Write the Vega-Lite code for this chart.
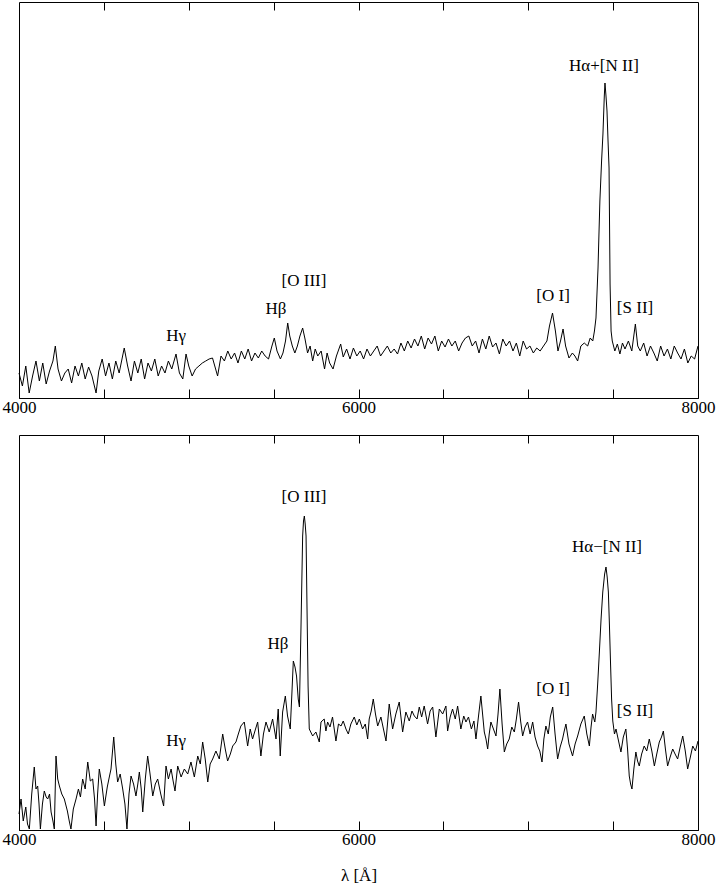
{
"$schema": "https://vega.github.io/schema/vega-lite/v6.json",
"padding": {"left": 1, "top": 1, "right": 0, "bottom": 0},
"background": "white",
"config": {
  "view": {"stroke": "black", "strokeWidth": 1},
  "axis": {"domainColor": "black", "tickColor": "black", "labelColor": "black", "titleColor": "black", "labelFont": "Liberation Serif", "titleFont": "Liberation Serif", "labelFontSize": 17, "titleFontSize": 17, "titleFontWeight": "normal", "grid": false, "zindex": 1},
  "text": {"font": "Liberation Serif", "fontSize": 17, "color": "black"}
},
"spacing": 18,
"datasets": {
"p1": [
{"w":4000,"f":25},{"w":4020,"f":12},{"w":4040,"f":32},{"w":4060,"f":5},{"w":4080,"f":22},{"w":4100,"f":37},{"w":4120,"f":17},{"w":4140,"f":35},{"w":4160,"f":14},{"w":4180,"f":27},{"w":4200,"f":37},{"w":4214,"f":52},{"w":4230,"f":29},{"w":4250,"f":17},{"w":4270,"f":25},{"w":4290,"f":29},{"w":4310,"f":15},{"w":4330,"f":32},{"w":4350,"f":22},{"w":4370,"f":35},{"w":4390,"f":19},{"w":4410,"f":31},{"w":4430,"f":22},{"w":4454,"f":5},{"w":4470,"f":27},{"w":4490,"f":39},{"w":4510,"f":22},{"w":4530,"f":35},{"w":4550,"f":19},{"w":4570,"f":37},{"w":4590,"f":25},{"w":4620,"f":50},{"w":4640,"f":32},{"w":4660,"f":17},{"w":4680,"f":37},{"w":4700,"f":25},{"w":4720,"f":39},{"w":4740,"f":19},{"w":4760,"f":35},{"w":4780,"f":27},{"w":4800,"f":39},{"w":4820,"f":22},{"w":4840,"f":32},{"w":4860,"f":25},{"w":4880,"f":37},{"w":4900,"f":29},{"w":4925,"f":44},{"w":4945,"f":25},{"w":4965,"f":19},{"w":4984,"f":44},{"w":5000,"f":32},{"w":5020,"f":22},{"w":5040,"f":29},{"w":5060,"f":32},{"w":5080,"f":35},{"w":5100,"f":37},{"w":5120,"f":39},{"w":5140,"f":40},{"w":5170,"f":22},{"w":5190,"f":42},{"w":5210,"f":37},{"w":5230,"f":47},{"w":5250,"f":39},{"w":5270,"f":45},{"w":5290,"f":35},{"w":5310,"f":47},{"w":5330,"f":39},{"w":5350,"f":49},{"w":5370,"f":37},{"w":5390,"f":45},{"w":5410,"f":40},{"w":5430,"f":47},{"w":5450,"f":42},{"w":5470,"f":39},{"w":5490,"f":52},{"w":5504,"f":60},{"w":5520,"f":47},{"w":5540,"f":39},{"w":5555,"f":45},{"w":5570,"f":57},{"w":5583,"f":75},{"w":5595,"f":62},{"w":5610,"f":52},{"w":5625,"f":45},{"w":5640,"f":52},{"w":5655,"f":62},{"w":5671,"f":70},{"w":5685,"f":59},{"w":5700,"f":45},{"w":5715,"f":52},{"w":5730,"f":37},{"w":5745,"f":49},{"w":5760,"f":42},{"w":5780,"f":47},{"w":5800,"f":29},{"w":5815,"f":45},{"w":5830,"f":35},{"w":5850,"f":29},{"w":5870,"f":42},{"w":5895,"f":54},{"w":5910,"f":41},{"w":5930,"f":49},{"w":5950,"f":39},{"w":5970,"f":50},{"w":5990,"f":42},{"w":6010,"f":47},{"w":6030,"f":39},{"w":6050,"f":49},{"w":6070,"f":42},{"w":6090,"f":47},{"w":6110,"f":52},{"w":6130,"f":42},{"w":6150,"f":47},{"w":6170,"f":52},{"w":6190,"f":45},{"w":6210,"f":49},{"w":6230,"f":44},{"w":6250,"f":55},{"w":6270,"f":47},{"w":6290,"f":57},{"w":6310,"f":50},{"w":6330,"f":59},{"w":6350,"f":52},{"w":6370,"f":62},{"w":6390,"f":49},{"w":6410,"f":60},{"w":6430,"f":54},{"w":6450,"f":62},{"w":6470,"f":47},{"w":6490,"f":57},{"w":6510,"f":51},{"w":6530,"f":59},{"w":6550,"f":52},{"w":6570,"f":57},{"w":6590,"f":47},{"w":6610,"f":55},{"w":6630,"f":60},{"w":6650,"f":62},{"w":6670,"f":52},{"w":6690,"f":57},{"w":6710,"f":45},{"w":6730,"f":59},{"w":6750,"f":49},{"w":6770,"f":62},{"w":6790,"f":51},{"w":6810,"f":55},{"w":6830,"f":44},{"w":6850,"f":59},{"w":6870,"f":52},{"w":6890,"f":57},{"w":6910,"f":47},{"w":6930,"f":55},{"w":6950,"f":42},{"w":6970,"f":57},{"w":6990,"f":49},{"w":7010,"f":52},{"w":7030,"f":45},{"w":7050,"f":50},{"w":7070,"f":47},{"w":7090,"f":52},{"w":7110,"f":57},{"w":7125,"f":72},{"w":7143,"f":85},{"w":7160,"f":67},{"w":7175,"f":47},{"w":7190,"f":57},{"w":7205,"f":69},{"w":7220,"f":52},{"w":7240,"f":40},{"w":7260,"f":45},{"w":7275,"f":42},{"w":7291,"f":37},{"w":7310,"f":52},{"w":7330,"f":55},{"w":7350,"f":52},{"w":7365,"f":60},{"w":7380,"f":57},{"w":7390,"f":67},{"w":7399,"f":80},{"w":7411,"f":130},{"w":7422,"f":197},{"w":7432,"f":237},{"w":7440,"f":264},{"w":7448,"f":302},{"w":7452,"f":315},{"w":7458,"f":302},{"w":7464,"f":287},{"w":7470,"f":257},{"w":7476,"f":230},{"w":7482,"f":114},{"w":7488,"f":67},{"w":7495,"f":57},{"w":7510,"f":47},{"w":7525,"f":54},{"w":7540,"f":44},{"w":7555,"f":55},{"w":7570,"f":49},{"w":7590,"f":57},{"w":7610,"f":47},{"w":7631,"f":74},{"w":7645,"f":52},{"w":7660,"f":47},{"w":7680,"f":55},{"w":7700,"f":42},{"w":7720,"f":52},{"w":7740,"f":45},{"w":7760,"f":37},{"w":7780,"f":52},{"w":7800,"f":42},{"w":7820,"f":49},{"w":7840,"f":39},{"w":7860,"f":52},{"w":7880,"f":45},{"w":7900,"f":39},{"w":7920,"f":49},{"w":7940,"f":35},{"w":7960,"f":42},{"w":7980,"f":39},{"w":8000,"f":52}
],
"p2": [
{"w":4000,"f":16},{"w":4012,"f":31},{"w":4025,"f":9},{"w":4040,"f":23},{"w":4050,"f":6},{"w":4061,"f":1},{"w":4075,"f":36},{"w":4090,"f":63},{"w":4100,"f":41},{"w":4110,"f":44},{"w":4118,"f":26},{"w":4126,"f":1},{"w":4138,"f":26},{"w":4149,"f":39},{"w":4160,"f":33},{"w":4169,"f":31},{"w":4180,"f":36},{"w":4189,"f":18},{"w":4200,"f":9},{"w":4208,"f":1},{"w":4218,"f":74},{"w":4228,"f":51},{"w":4238,"f":44},{"w":4252,"f":36},{"w":4267,"f":31},{"w":4285,"f":19},{"w":4296,"f":9},{"w":4306,"f":1},{"w":4320,"f":21},{"w":4336,"f":31},{"w":4350,"f":41},{"w":4362,"f":33},{"w":4375,"f":51},{"w":4390,"f":41},{"w":4405,"f":68},{"w":4420,"f":49},{"w":4434,"f":51},{"w":4445,"f":31},{"w":4454,"f":4},{"w":4463,"f":36},{"w":4473,"f":61},{"w":4488,"f":46},{"w":4503,"f":24},{"w":4520,"f":43},{"w":4532,"f":53},{"w":4542,"f":61},{"w":4558,"f":93},{"w":4570,"f":66},{"w":4581,"f":48},{"w":4596,"f":56},{"w":4611,"f":41},{"w":4624,"f":26},{"w":4636,"f":1},{"w":4648,"f":36},{"w":4660,"f":54},{"w":4675,"f":46},{"w":4689,"f":34},{"w":4700,"f":46},{"w":4709,"f":58},{"w":4720,"f":41},{"w":4729,"f":18},{"w":4744,"f":51},{"w":4758,"f":74},{"w":4772,"f":56},{"w":4788,"f":34},{"w":4803,"f":46},{"w":4817,"f":51},{"w":4835,"f":36},{"w":4852,"f":24},{"w":4866,"f":64},{"w":4880,"f":51},{"w":4896,"f":61},{"w":4908,"f":49},{"w":4919,"f":39},{"w":4935,"f":64},{"w":4955,"f":53},{"w":4974,"f":61},{"w":4994,"f":56},{"w":5013,"f":68},{"w":5033,"f":53},{"w":5053,"f":74},{"w":5068,"f":66},{"w":5082,"f":88},{"w":5097,"f":71},{"w":5112,"f":48},{"w":5126,"f":66},{"w":5141,"f":71},{"w":5160,"f":79},{"w":5180,"f":71},{"w":5200,"f":96},{"w":5215,"f":81},{"w":5229,"f":69},{"w":5245,"f":76},{"w":5259,"f":84},{"w":5278,"f":88},{"w":5292,"f":96},{"w":5307,"f":104},{"w":5327,"f":108},{"w":5347,"f":84},{"w":5362,"f":101},{"w":5376,"f":91},{"w":5390,"f":99},{"w":5406,"f":108},{"w":5425,"f":74},{"w":5440,"f":96},{"w":5455,"f":108},{"w":5474,"f":98},{"w":5494,"f":111},{"w":5514,"f":91},{"w":5527,"f":121},{"w":5539,"f":74},{"w":5553,"f":118},{"w":5569,"f":134},{"w":5582,"f":114},{"w":5598,"f":101},{"w":5608,"f":138},{"w":5616,"f":169},{"w":5626,"f":163},{"w":5635,"f":154},{"w":5645,"f":131},{"w":5652,"f":123},{"w":5661,"f":201},{"w":5671,"f":294},{"w":5676,"f":309},{"w":5681,"f":314},{"w":5686,"f":306},{"w":5691,"f":294},{"w":5697,"f":218},{"w":5703,"f":144},{"w":5710,"f":101},{"w":5730,"f":94},{"w":5749,"f":98},{"w":5769,"f":88},{"w":5779,"f":108},{"w":5798,"f":111},{"w":5808,"f":99},{"w":5818,"f":108},{"w":5832,"f":103},{"w":5847,"f":113},{"w":5867,"f":89},{"w":5882,"f":106},{"w":5897,"f":104},{"w":5910,"f":109},{"w":5926,"f":101},{"w":5940,"f":96},{"w":5955,"f":106},{"w":5975,"f":113},{"w":5990,"f":105},{"w":6005,"f":111},{"w":6024,"f":101},{"w":6040,"f":106},{"w":6054,"f":91},{"w":6063,"f":111},{"w":6075,"f":119},{"w":6087,"f":131},{"w":6100,"f":116},{"w":6113,"f":104},{"w":6132,"f":113},{"w":6147,"f":101},{"w":6162,"f":89},{"w":6181,"f":126},{"w":6201,"f":101},{"w":6220,"f":116},{"w":6240,"f":128},{"w":6260,"f":98},{"w":6279,"f":118},{"w":6299,"f":109},{"w":6315,"f":119},{"w":6329,"f":114},{"w":6345,"f":111},{"w":6358,"f":123},{"w":6372,"f":113},{"w":6387,"f":124},{"w":6407,"f":106},{"w":6422,"f":119},{"w":6437,"f":123},{"w":6456,"f":93},{"w":6476,"f":121},{"w":6496,"f":116},{"w":6515,"f":124},{"w":6525,"f":99},{"w":6540,"f":113},{"w":6554,"f":121},{"w":6570,"f":111},{"w":6584,"f":124},{"w":6603,"f":101},{"w":6620,"f":114},{"w":6633,"f":108},{"w":6648,"f":113},{"w":6665,"f":101},{"w":6680,"f":109},{"w":6692,"f":91},{"w":6705,"f":111},{"w":6721,"f":134},{"w":6731,"f":116},{"w":6741,"f":98},{"w":6751,"f":91},{"w":6761,"f":81},{"w":6770,"f":96},{"w":6780,"f":108},{"w":6795,"f":101},{"w":6810,"f":94},{"w":6822,"f":116},{"w":6833,"f":141},{"w":6846,"f":106},{"w":6859,"f":78},{"w":6873,"f":86},{"w":6888,"f":91},{"w":6903,"f":103},{"w":6918,"f":98},{"w":6930,"f":111},{"w":6943,"f":128},{"w":6955,"f":109},{"w":6967,"f":94},{"w":6981,"f":103},{"w":6996,"f":108},{"w":7011,"f":96},{"w":7026,"f":108},{"w":7040,"f":93},{"w":7055,"f":84},{"w":7068,"f":79},{"w":7081,"f":68},{"w":7092,"f":91},{"w":7104,"f":104},{"w":7118,"f":96},{"w":7130,"f":113},{"w":7144,"f":123},{"w":7158,"f":96},{"w":7173,"f":71},{"w":7188,"f":83},{"w":7202,"f":91},{"w":7212,"f":99},{"w":7222,"f":106},{"w":7240,"f":86},{"w":7261,"f":74},{"w":7276,"f":86},{"w":7291,"f":94},{"w":7310,"f":106},{"w":7330,"f":114},{"w":7345,"f":96},{"w":7360,"f":84},{"w":7370,"f":103},{"w":7379,"f":116},{"w":7392,"f":108},{"w":7399,"f":118},{"w":7409,"f":146},{"w":7419,"f":178},{"w":7429,"f":211},{"w":7439,"f":238},{"w":7450,"f":256},{"w":7458,"f":263},{"w":7465,"f":253},{"w":7472,"f":238},{"w":7478,"f":206},{"w":7484,"f":171},{"w":7491,"f":131},{"w":7498,"f":109},{"w":7508,"f":96},{"w":7517,"f":101},{"w":7532,"f":89},{"w":7546,"f":78},{"w":7560,"f":93},{"w":7575,"f":101},{"w":7585,"f":81},{"w":7595,"f":54},{"w":7603,"f":46},{"w":7611,"f":41},{"w":7622,"f":61},{"w":7634,"f":78},{"w":7644,"f":69},{"w":7654,"f":64},{"w":7668,"f":76},{"w":7683,"f":84},{"w":7698,"f":79},{"w":7713,"f":91},{"w":7728,"f":79},{"w":7743,"f":64},{"w":7757,"f":76},{"w":7772,"f":88},{"w":7785,"f":93},{"w":7796,"f":99},{"w":7808,"f":81},{"w":7821,"f":64},{"w":7836,"f":73},{"w":7851,"f":81},{"w":7865,"f":76},{"w":7880,"f":71},{"w":7895,"f":83},{"w":7910,"f":94},{"w":7925,"f":79},{"w":7939,"f":61},{"w":7955,"f":73},{"w":7969,"f":84},{"w":7985,"f":79},{"w":8000,"f":89}
],
"l1": [{"w":4925,"f":62,"t":"Hγ"},{"w":5514,"f":89,"t":"Hβ"},{"w":5679,"f":117,"t":"[O III]"},{"w":7146,"f":102,"t":"[O I]"},{"w":7446,"f":332,"t":"Hα+[N II]"},{"w":7629,"f":90,"t":"[S II]"}],
"l2": [{"w":4925,"f":89,"t":"Hγ"},{"w":5526,"f":186,"t":"Hβ"},{"w":5679,"f":333,"t":"[O III]"},{"w":7146,"f":141,"t":"[O I]"},{"w":7464,"f":283,"t":"Hα−[N II]"},{"w":7629,"f":119,"t":"[S II]"}]
},
"vconcat": [
{
 "width": 679, "height": 396,
 "layer": [
  {"data": {"name": "p1"}, "mark": {"type": "line", "color": "black", "strokeWidth": 1},
   "encoding": {
    "x": {"field": "w", "type": "quantitative", "scale": {"domain": [4000, 8000], "nice": false, "zero": false},
          "axis": {"orient": "bottom", "title": null, "values": [4000,4500,5000,5500,6000,6500,7000,7500,8000], "format": "d", "labelExpr": "datum.value % 2000 === 0 ? datum.label : ''", "ticks": true, "tickSize": -9, "tickWidth": 1, "labelPadding": 10, "labelFlush": false}},
    "y": {"field": "f", "type": "quantitative", "scale": {"domain": [0, 396], "nice": false, "zero": false}, "axis": null}
   }},
  {"data": {"name": "l1"}, "mark": {"type": "text", "baseline": "middle", "align": "center"},
   "encoding": {
    "x": {"field": "w", "type": "quantitative",
          "axis": {"orient": "top", "title": null, "values": [4500,5000,5500,6000,6500,7000,7500], "labels": false, "domain": false, "ticks": true, "tickSize": 8, "tickWidth": 1, "offset": -8}},
    "y": {"field": "f", "type": "quantitative"},
    "text": {"field": "t"}
   }}
 ],
 "resolve": {"axis": {"x": "independent"}}
},
{
 "width": 679, "height": 395,
 "layer": [
  {"data": {"name": "p2"}, "mark": {"type": "line", "color": "black", "strokeWidth": 1},
   "encoding": {
    "x": {"field": "w", "type": "quantitative", "scale": {"domain": [4000, 8000], "nice": false, "zero": false},
          "axis": {"orient": "bottom", "title": "λ [Å]", "titlePadding": 20, "values": [4000,4500,5000,5500,6000,6500,7000,7500,8000], "format": "d", "labelExpr": "datum.value % 2000 === 0 ? datum.label : ''", "ticks": true, "tickSize": -9, "tickWidth": 1, "labelPadding": 10, "labelFlush": false}},
    "y": {"field": "f", "type": "quantitative", "scale": {"domain": [0, 395], "nice": false, "zero": false}, "axis": null}
   }},
  {"data": {"name": "l2"}, "mark": {"type": "text", "baseline": "middle", "align": "center"},
   "encoding": {
    "x": {"field": "w", "type": "quantitative",
          "axis": {"orient": "top", "title": null, "values": [4500,5000,5500,6000,6500,7000,7500], "labels": false, "domain": false, "ticks": true, "tickSize": 8, "tickWidth": 1, "offset": -8}},
    "y": {"field": "f", "type": "quantitative"},
    "text": {"field": "t"}
   }}
 ],
 "resolve": {"axis": {"x": "independent"}}
}
]
}
